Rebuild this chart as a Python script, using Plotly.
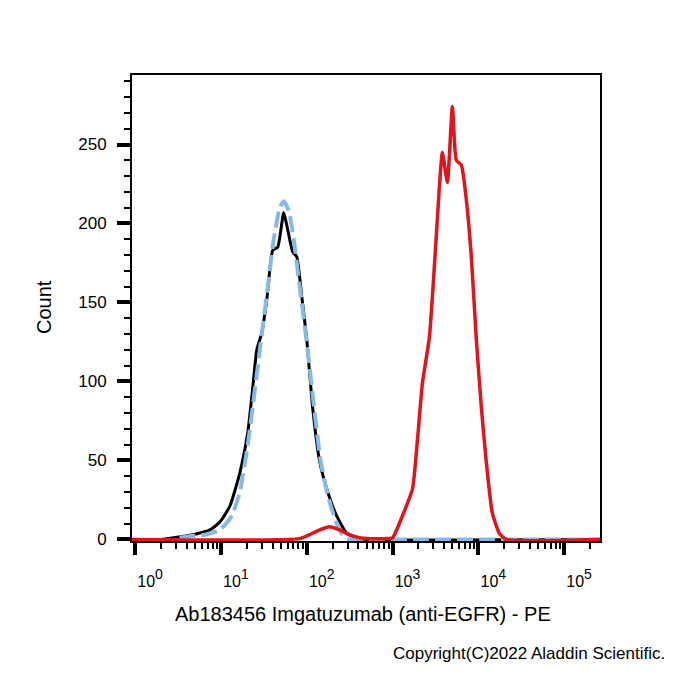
import plotly.graph_objects as go
import numpy as np

# Fluorescence intensity (PE) and counts
black_x = [0.92, 2.0, 2.77, 4.72, 7.45, 9.73, 12.7, 16.6, 20.6, 23.6, 26.2, 30.0, 34.3, 40.2, 46.0,
           54.0, 60.1, 68.7, 76.5, 87.5, 100, 117, 142, 176, 223, 292, 381, 500, 262144]
black_y = [0, 0, 1, 3, 6, 11, 21, 42, 68, 97, 120, 131, 152, 183, 185,
           207, 196, 182, 179, 154, 127, 84, 49, 30, 15, 4, 1, 0, 0]

blue_x = [3.3, 4.36, 6.5, 9.73, 13.4, 16.6, 20.6, 24.9, 30.0, 35.2, 41.3, 48.5, 54.0, 61.8,
          70.6, 82.9, 100, 121, 145, 176, 217, 262, 316, 400, 262144]
blue_y = [1, 2, 3, 6, 15, 30, 60, 95, 130, 160, 190, 210, 214, 208,
          190, 160, 125, 85, 50, 28, 12, 3, 0, 0, 0]

red_x = [0.92, 83, 108, 142, 185, 242, 316, 413, 570, 807, 1000, 1307, 1710, 1954, 2234, 2692,
         3078, 3520, 3814, 4362, 4988, 5547, 6345, 7251, 8291, 9480, 10840, 12390, 14550,
         17540, 21170, 262144]
red_y = [0, 0.5, 3, 6, 8, 6, 3, 1, 0.5, 0.5, 1, 15, 32, 63, 99, 128,
         173, 223, 245, 226, 274, 240, 237, 215, 179, 127, 84, 49, 17,
         4, 0, 0]

x_tickvals = [1, 10, 100, 1000, 10000, 100000]
x_ticklabels = ["0", "1", "2", "3", "4", "5"]
x_ticktext = ["<span style='font-size:16px'>10</span><sup>%s</sup>" % e for e in x_ticklabels]
y_tickvals = [0, 50, 100, 150, 200, 250]

x_title = "Ab183456 Imgatuzumab (anti-EGFR) - PE"
y_title = "Count"
copyright_text = "Copyright(C)2022 Aladdin Scientific."

FONT = "Liberation Sans, Arial, sans-serif"

fig = go.Figure()
fig.add_trace(go.Scatter(x=black_x, y=black_y, mode="lines",
                         line=dict(color="black", width=3, shape="spline", smoothing=0.5),
                         showlegend=False))
fig.add_trace(go.Scatter(x=blue_x, y=blue_y, mode="lines",
                         line=dict(color="#86b9e8", width=4, dash="16px,6px",
                                   shape="spline", smoothing=0.5),
                         showlegend=False))
fig.add_trace(go.Scatter(x=red_x, y=red_y, mode="lines",
                         line=dict(color="#e0141a", width=3.5, shape="spline", smoothing=0.5),
                         showlegend=False))

minor_x = [m * 10 ** e for e in range(0, 6) for m in range(2, 10) if m * 10 ** e <= 262144]

fig.update_layout(
    width=700, height=700,
    margin=dict(l=132, r=100, t=75, b=159),
    paper_bgcolor="white", plot_bgcolor="white",
    font=dict(family=FONT, color="black"),
    xaxis=dict(type="log", range=[np.log10(0.92), np.log10(262144)],
               showgrid=False, zeroline=False,
               showline=True, linecolor="black", linewidth=2, mirror=True,
               tickvals=x_tickvals, ticktext=x_ticktext,
               ticks="outside", ticklen=12, tickwidth=4, tickcolor="black",
               tickfont=dict(size=20, family=FONT, color="black"),
               ticklabelshift=15, ticklabelstandoff=8,
               minor=dict(tickvals=minor_x, ticks="outside", ticklen=6, tickwidth=2,
                          tickcolor="black", showgrid=False)),
    yaxis=dict(range=[-1, 294], showgrid=False, zeroline=False,
               showline=True, linecolor="black", linewidth=2, mirror=True,
               tickvals=y_tickvals,
               ticks="outside", ticklen=13, tickwidth=4, tickcolor="black",
               tickfont=dict(size=17, family=FONT, color="black"),
               ticklabelstandoff=7,
               minor=dict(dtick=10, ticks="outside", ticklen=6, tickwidth=2,
                          tickcolor="black", showgrid=False)),
    annotations=[
        dict(text=y_title, x=31, y=307, xref="paper", yref="paper", showarrow=False,
             textangle=-90, font=dict(size=20, family=FONT, color="black")),
        dict(text=x_title, x=363, y=627, xref="paper", yref="paper", showarrow=False,
             font=dict(size=20, family=FONT, color="black")),
        dict(text=copyright_text, x=667, y=665, xref="paper", yref="paper", showarrow=False,
             xanchor="right", font=dict(size=17, family=FONT, color="black")),
    ],
)

# convert pixel-based annotation placement to paper coords
pw, ph = 700 - 132 - 100, 700 - 75 - 159
for a in fig.layout.annotations:
    a.x = (a.x - 132) / pw
    a.y = (700 - 159 - a.y) / ph

fig.write_html("out.html")
